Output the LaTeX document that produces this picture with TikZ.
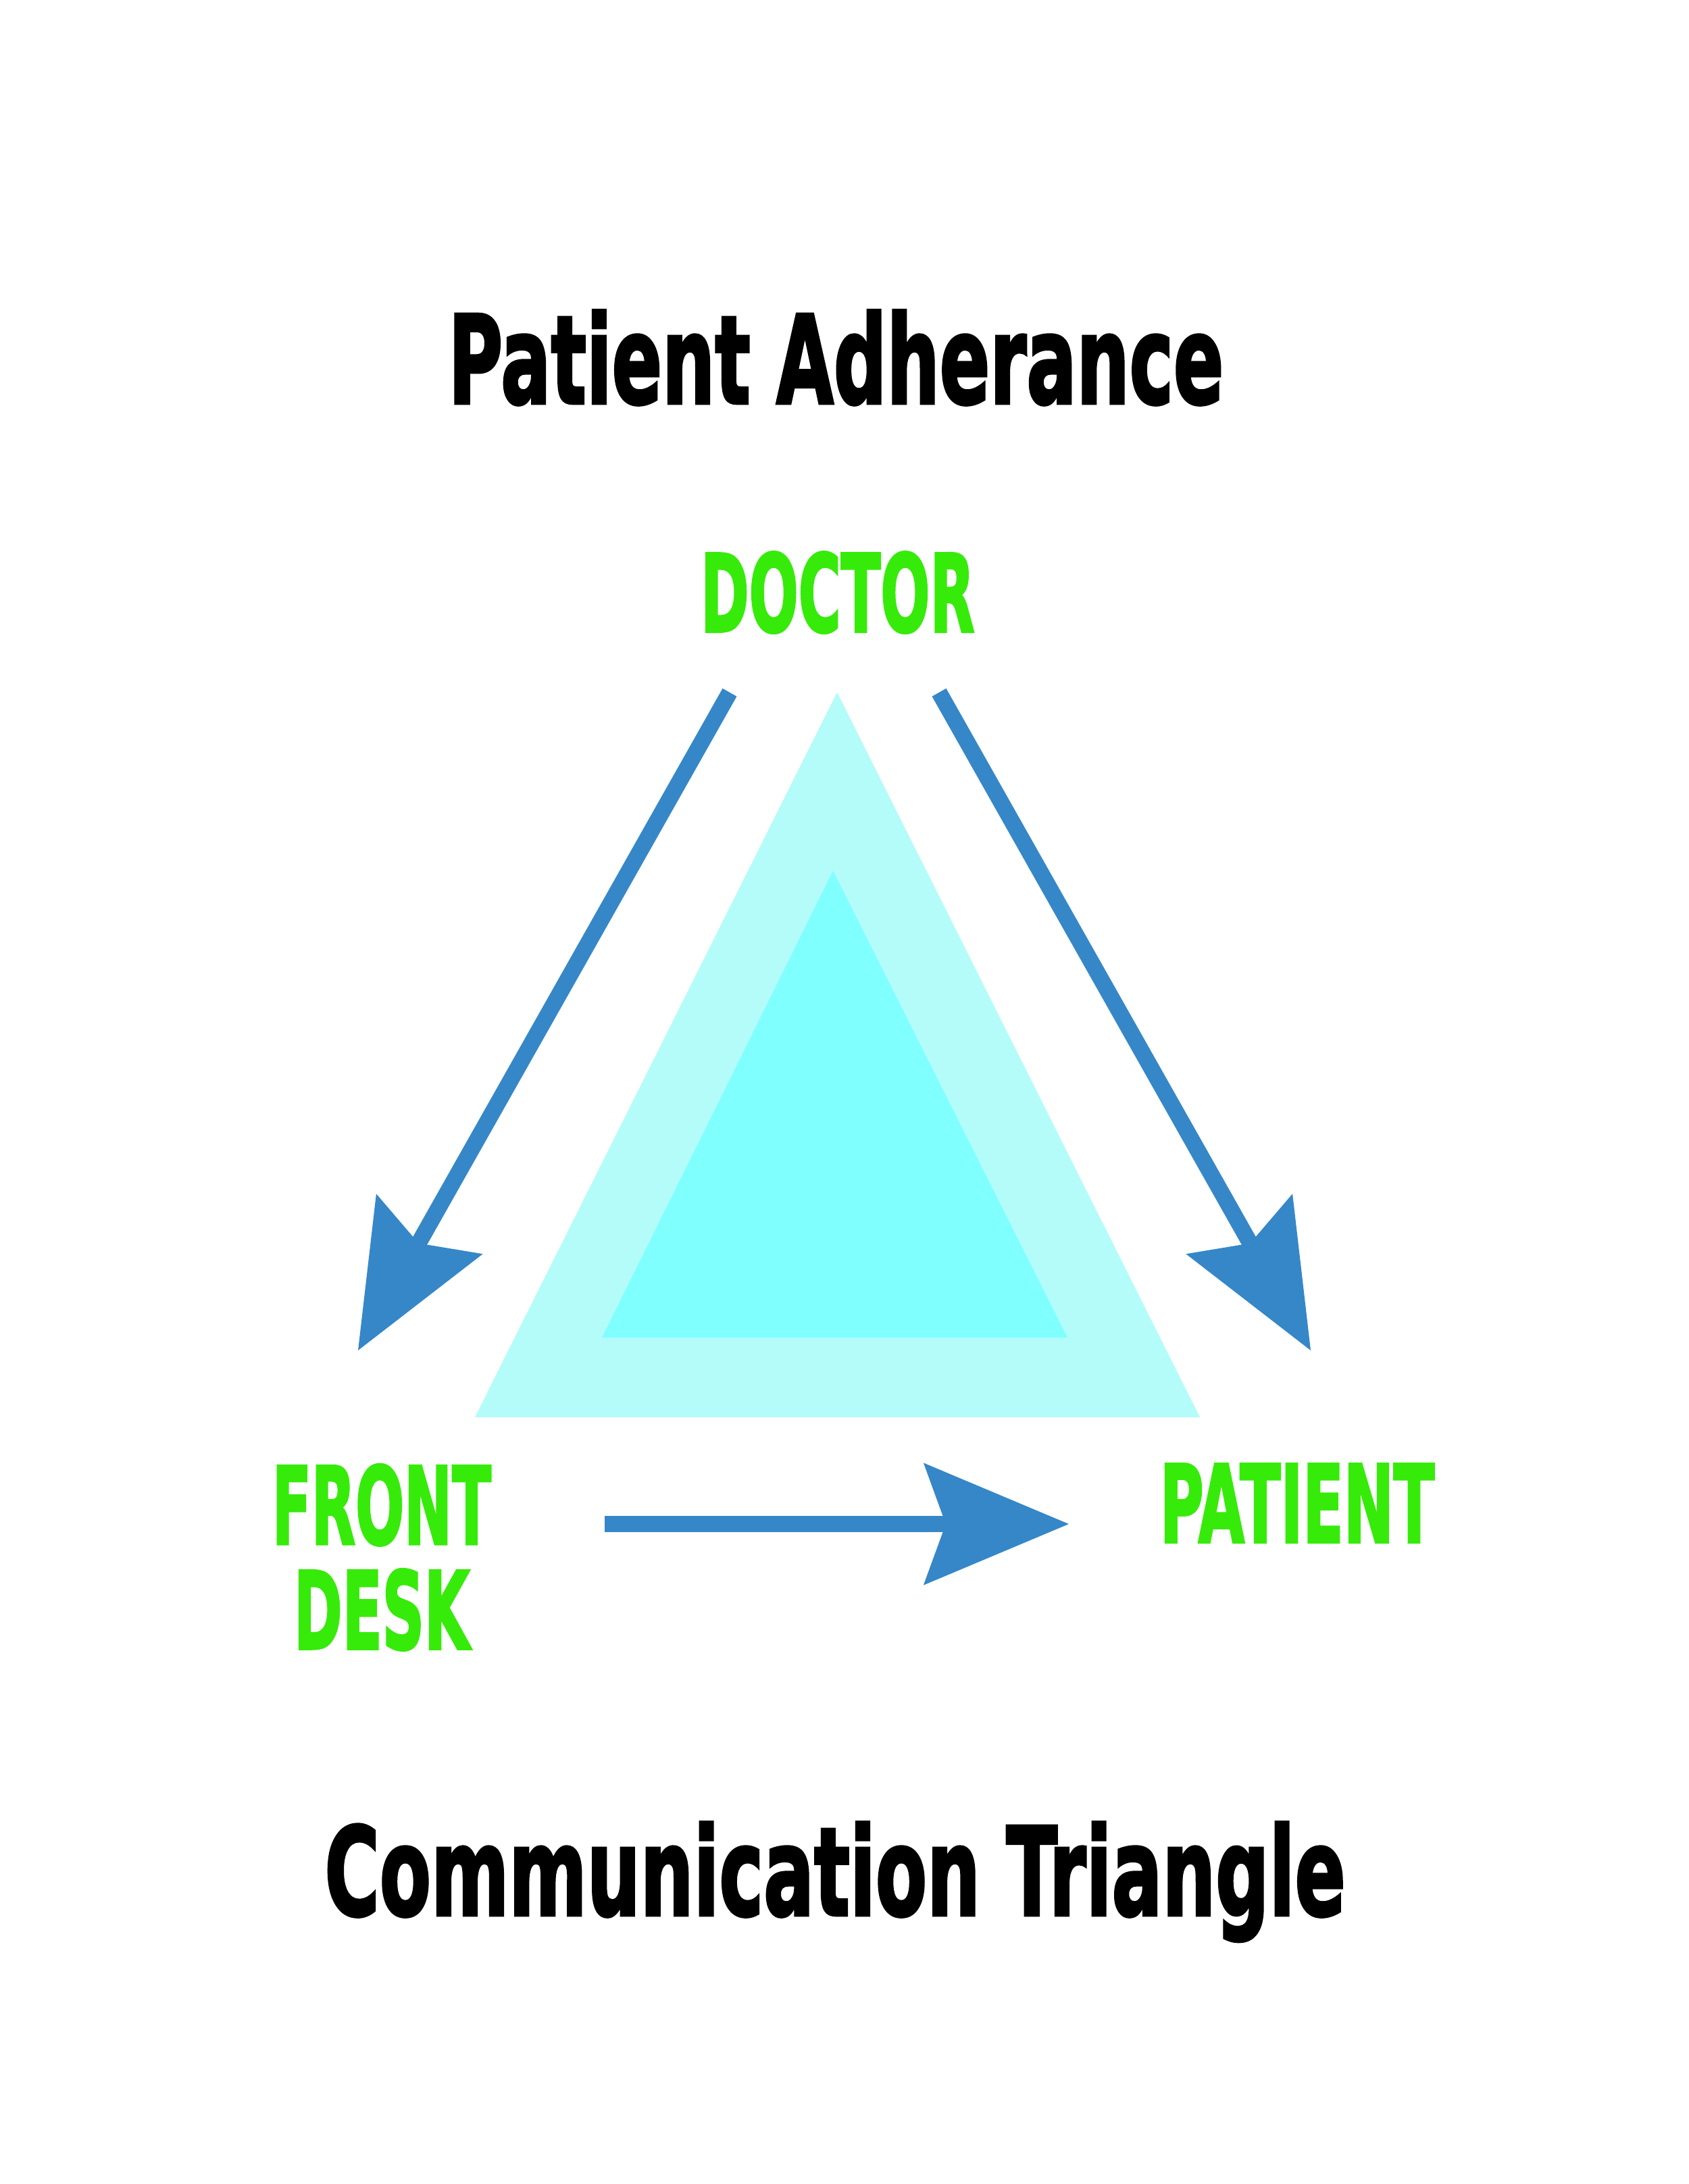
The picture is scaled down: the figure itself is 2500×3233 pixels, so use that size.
\documentclass[tikz,border=0pt]{standalone}
\usepackage{fontspec}
\usepackage{graphicx}
\usetikzlibrary{arrows.meta}
\newfontfamily\heavyfont{DejaVu Sans}[BoldFeatures={FakeBold=2.5}]
\definecolor{arrowblue}{HTML}{3587C8}
\definecolor{labelgreen}{HTML}{36EB0A}
\definecolor{outertri}{HTML}{B3FCFA}
\definecolor{innertri}{HTML}{80FFFF}
\begin{document}
\begin{tikzpicture}[x=0.01cm,y=-0.01cm,
  titletext/.style={inner sep=0pt, anchor=base, text=black,
    font=\heavyfont\bfseries\fontsize{51.5}{60}\selectfont},
  roletext/.style={inner sep=0pt, text=labelgreen,
    font=\heavyfont\bfseries\fontsize{45.2}{44.1}\selectfont},
  flow/.style={draw=arrowblue, line width=0.24cm,
    -{Stealth[length=2.15cm,width=1.81cm,inset=0.33cm,line width=0pt]}}]
\useasboundingbox (0,0) rectangle (2500,3233);
\fill[white] (0,0) rectangle (2500,3233);

% triangles
\fill[outertri] (1239,1025) -- (703,2098) -- (1776,2098) -- cycle;
\fill[innertri] (1233,1289) -- (891,1980) -- (1580,1980) -- cycle;

% texts
\node[titletext] (heading) at (1237.5,597) {\resizebox{11.47cm}{\height}{Patient Adherance}};
\node[titletext] (caption) at (1236,2835) {\resizebox{15.10cm}{\height}{Communication Triangle}};
\node[roletext, anchor=base] (doctor) at (1240,935) {\resizebox{4.05cm}{\height}{DOCTOR}};
\node[roletext, anchor=base] (patient) at (1920,2283) {\resizebox{4.06cm}{\height}{PATIENT}};
\node[roletext, anchor=north, align=center] (frontdesk) at (565,2167)
  {\resizebox{3.24cm}{\height}{FRONT}\\\resizebox{2.60cm}{\height}{DESK}};

% connectors
\coordinate (dl0) at (1080,1025); \coordinate (dl1) at (530,1999);
\coordinate (dr0) at (1390,1025); \coordinate (dr1) at (1940,1999);
\coordinate (fp0) at (895,2256);  \coordinate (fp1) at (1582,2256);
\draw[flow] (dl0) -- (dl1);
\draw[flow] (dr0) -- (dr1);
\draw[flow] (fp0) -- (fp1);
\end{tikzpicture}
\end{document}
